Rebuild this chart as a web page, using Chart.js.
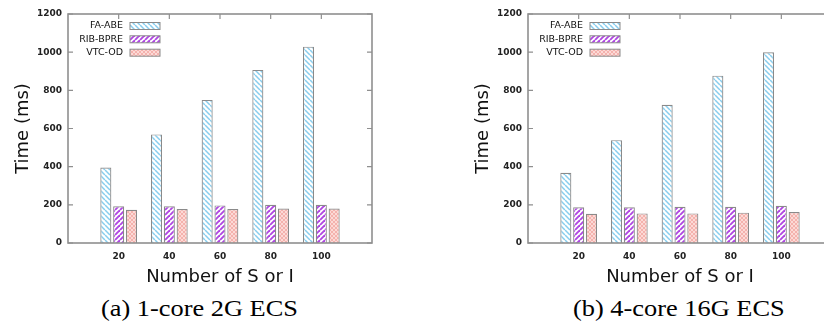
<!DOCTYPE html>
<html><head><meta charset="utf-8">
<script src="https://cdn.jsdelivr.net/npm/chart.js@4.4.0/dist/chart.umd.min.js"></script>
<style>
html,body{margin:0;padding:0;background:#fff;overflow:hidden;width:824px;height:324px;}
#wrap{position:relative;width:824px;height:324px;overflow:hidden;}
.cv{position:absolute;top:0;width:412px;height:290px;}
.cap{position:absolute;font-family:"Liberation Serif","Times New Roman",serif;font-size:23px;line-height:1;color:#000;white-space:nowrap;transform-origin:left center;}
</style></head><body>
<div id="wrap">
<div class="cv" style="left:0"><canvas id="c1" width="412" height="290"></canvas></div>
<div class="cv" style="left:460px"><canvas id="c2" width="412" height="290"></canvas></div>
<div class="cap" id="cap1"></div>
<div class="cap" id="cap2"></div>
</div>
<script>
// ---- data ----
const categories = ['', '20', '40', '60', '80', '100', ''];
const seriesNames = ['FA-ABE', 'RIB-BPRE', 'VTC-OD'];
const yTicks = [0, 200, 400, 600, 800, 1000, 1200];
const faAbe1   = [null, 396, 569, 750, 907, 1029, null];
const ribBpre1 = [null, 192, 192, 197, 200, 200, null];
const vtcOd1   = [null, 174, 178, 178, 181, 181, null];
const faAbe2   = [null, 368, 539, 724, 877, 999, null];
const ribBpre2 = [null, 187, 187, 190, 190, 195, null];
const vtcOd2   = [null, 153, 155, 155, 159, 162, null];
const xTitle = 'Number of S or I';
const yTitle = 'Time (ms)';
const captions = ['(a) 1-core 2G ECS', '(b) 4-core 16G ECS'];

Chart.defaults.font.family = '"DejaVu Sans", Verdana, sans-serif';

function makePattern(kind){
  const s = kind === 'dots' ? 4 : 5;
  const c = document.createElement('canvas');
  c.width = c.height = s;
  const g = c.getContext('2d');
  if (kind === 'dots') {
    g.fillStyle = '#fcd9d6'; g.fillRect(0,0,s,s);
    g.strokeStyle = '#f0a09b'; g.lineWidth = 0.7;
    for (let k=-1;k<=1;k++){
      g.beginPath(); g.moveTo(k*s,0); g.lineTo(k*s+s,s); g.stroke();
      g.beginPath(); g.moveTo(k*s,s); g.lineTo(k*s+s,0); g.stroke();
    }
  } else {
    g.fillStyle = '#fff'; g.fillRect(0,0,s,s);
    g.strokeStyle = kind === 'back' ? '#88cdee' : '#b048e2';
    g.lineWidth = kind === 'back' ? 1.5 : 1.9;
    for (let k=-1;k<=1;k++){
      g.beginPath();
      if (kind === 'back') { g.moveTo(k*s,0); g.lineTo(k*s+s,s); }
      else { g.moveTo(k*s,s); g.lineTo(k*s+s,0); }
      g.stroke();
    }
  }
  return c;
}

const frame = {
  id: 'frame',
  beforeDatasetsDraw(chart){
    const {ctx, chartArea:a, scales:{x}} = chart;
    ctx.save();
    ctx.strokeStyle = '#8f8f8f'; ctx.lineWidth = 1.2;
    ctx.beginPath();
    x.ticks.forEach((t,i)=>{
      if (!categories[i]) return;
      const px = x.getPixelForTick(i);
      ctx.moveTo(px, a.bottom); ctx.lineTo(px, a.bottom-5);
    });
    ctx.stroke();
    ctx.restore();
  },
  afterDatasetsDraw(chart){
    const {ctx, chartArea:a, scales:{x,y}} = chart;
    ctx.save();
    ctx.strokeStyle = '#8f8f8f'; ctx.lineWidth = 1.2;
    ctx.beginPath();
    y.ticks.forEach((t,i)=>{
      const py = y.getPixelForTick(i);
      ctx.moveTo(a.left, py); ctx.lineTo(a.left+5, py);
      ctx.moveTo(a.right, py); ctx.lineTo(a.right-5, py);
    });
    x.ticks.forEach((t,i)=>{
      if (!categories[i]) return;
      const px = x.getPixelForTick(i);
      ctx.moveTo(px, a.top); ctx.lineTo(px, a.top+5);
    });
    ctx.stroke();
    ctx.lineWidth = 1.6;
    ctx.strokeRect(a.left, a.top, a.right-a.left, a.bottom-a.top);
    // legend (text then sample box, inside top-left)
    ctx.font = '9.5px "DejaVu Sans"';
    ctx.textAlign = 'right'; ctx.textBaseline = 'middle';
    const rows = [12, 25.3, 38.7];
    chart.data.datasets.forEach((ds,i)=>{
      const cy = a.top + rows[i];
      ctx.fillStyle = '#111';
      ctx.fillText(ds.label, a.left + 55, cy);
      ctx.fillStyle = ds.backgroundColor;
      ctx.fillRect(a.left + 62, cy - 3.5, 30, 7);
      ctx.strokeStyle = '#8a8a8a'; ctx.lineWidth = 1;
      ctx.strokeRect(a.left + 62, cy - 3.5, 30, 7);
    });
    ctx.restore();
  }
};

function build(id, fa, rib, vtc){
  const ctx = document.getElementById(id).getContext('2d');
  const pats = [ctx.createPattern(makePattern('back'),'repeat'),
                ctx.createPattern(makePattern('fwd'),'repeat'),
                ctx.createPattern(makePattern('dots'),'repeat')];
  const vals = [fa, rib, vtc];
  return new Chart(ctx, {
    type: 'bar',
    data: {
      labels: categories,
      datasets: seriesNames.map((n,i)=>({
        label: n, data: vals[i], backgroundColor: pats[i],
        borderColor: '#8a8a8a', borderWidth: 1.2,
        categoryPercentage: 0.76, barPercentage: 0.86
      }))
    },
    options: {
      responsive: false, animation: false,
      layout: { padding: { top: 14, right: 40, bottom: 0, left: 0 } },
      plugins: { legend: { display: false }, tooltip: { enabled: false } },
      scales: {
        x: {
          type: 'category', offset: false,
          grid: { display: false, drawTicks: false }, border: { display: false },
          ticks: { padding: 8, autoSkip: false, maxRotation: 0, color: '#222', font: { size: 9, weight: 'bold' } },
          title: { display: true, text: xTitle, color: '#111', font: { size: 18, lineHeight: 1 }, padding: { top: 0, bottom: 4 } },
          afterFit: s => { s.height = 47; }
        },
        y: {
          min: 0, max: 1200,
          afterBuildTicks: s => { s.ticks = yTicks.map(v=>({value:v})); },
          grid: { display: false, drawTicks: false }, border: { display: false },
          ticks: { padding: 6, color: '#222', font: { size: 9, weight: 'bold' }, callback: v => String(v) },
          title: { display: true, text: yTitle, color: '#111', font: { size: 18, lineHeight: 1 }, padding: { top: 14, bottom: 0 } },
          afterFit: s => { s.width = 68; }
        }
      }
    },
    plugins: [frame]
  });
}
build('c1', faAbe1, ribBpre1, vtcOd1);
build('c2', faAbe2, ribBpre2, vtcOd2);

// captions
const c1 = document.getElementById('cap1'), c2 = document.getElementById('cap2');
c1.textContent = captions[0]; c2.textContent = captions[1];
const sc = 197 / c1.getBoundingClientRect().width;
[[c1,199],[c2,679]].forEach(([el,cx])=>{
  const w = el.getBoundingClientRect().width * sc;
  el.style.left = (cx - w/2) + 'px';
  el.style.top = '297px';
  el.style.transform = 'scaleX(' + sc + ')';
});
</script>
</body></html>
